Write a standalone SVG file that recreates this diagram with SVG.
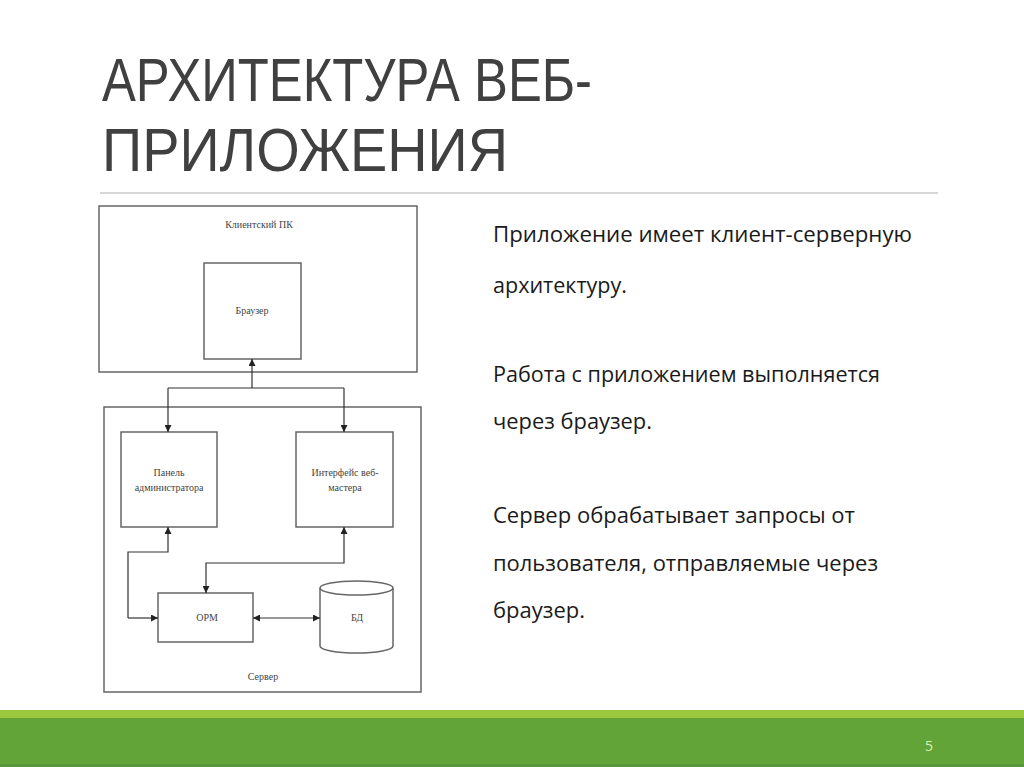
<svg xmlns="http://www.w3.org/2000/svg" width="1024" height="767" viewBox="0 0 1024 767">
<defs>
<marker id="ah" viewBox="0 0 10 10" refX="10" refY="5" markerWidth="7" markerHeight="7" markerUnits="userSpaceOnUse" orient="auto-start-reverse">
<path d="M0,0 L10,5 L0,10 Z" fill="#222"/>
</marker>
<style>
.title{font-family:"Liberation Sans",Arial,sans-serif;font-size:62px;fill:#404040}
.body{font-family:"Open Sans","Liberation Sans",sans-serif;font-size:21px;fill:#1a1a1a}
.box{fill:#fff;stroke:#666;stroke-width:1.5}
.lbl{font-family:"Liberation Serif","Times New Roman",serif;font-size:10px;fill:#444;text-anchor:middle}
.con{fill:none;stroke:#333;stroke-width:1.2}
</style>
</defs>
<rect width="1024" height="767" fill="#fff"/>
<g id="title">
<text class="title" x="102" y="101" textLength="490" lengthAdjust="spacingAndGlyphs">АРХИТЕКТУРА ВЕБ-</text>
<text class="title" x="102" y="171" textLength="406" lengthAdjust="spacingAndGlyphs">ПРИЛОЖЕНИЯ</text>
</g>
<line x1="100" y1="193" x2="938" y2="193" stroke="#c8c8c8" stroke-width="1.5"/>

<g id="text-body">
<text class="body" x="493" y="242" textLength="419" lengthAdjust="spacingAndGlyphs">Приложение имеет клиент-серверную</text>
<text class="body" x="493" y="293" textLength="134" lengthAdjust="spacingAndGlyphs">архитектуру.</text>
<text class="body" x="493" y="382" textLength="387" lengthAdjust="spacingAndGlyphs">Работа с приложением выполняется</text>
<text class="body" x="493" y="429" textLength="159" lengthAdjust="spacingAndGlyphs">через браузер.</text>
<text class="body" x="493" y="523" textLength="362" lengthAdjust="spacingAndGlyphs">Сервер обрабатывает запросы от</text>
<text class="body" x="493" y="571" textLength="385" lengthAdjust="spacingAndGlyphs">пользователя, отправляемые через</text>
<text class="body" x="493" y="618" textLength="92" lengthAdjust="spacingAndGlyphs">браузер.</text>
</g>

<g id="client-pc">
<rect class="box" x="99" y="206" width="318" height="166"/>
<text class="lbl" x="259" y="228">Клиентский ПК</text>
</g>
<g id="server">
<rect class="box" x="104" y="407" width="317" height="285"/>
<text class="lbl" x="263" y="680">Сервер</text>
</g>
<g id="browser">
<rect class="box" x="204" y="263" width="97" height="96"/>
<text class="lbl" x="252" y="314">Браузер</text>
</g>
<g id="admin-panel">
<rect class="box" x="121" y="432" width="96" height="95"/>
<text class="lbl" x="169" y="476">Панель</text>
<text class="lbl" x="169" y="491">администратора</text>
</g>
<g id="webmaster">
<rect class="box" x="296" y="432" width="97" height="95"/>
<text class="lbl" x="345" y="476">Интерфейс веб-</text>
<text class="lbl" x="345" y="491">мастера</text>
</g>
<g id="orm">
<rect class="box" x="158" y="593" width="95" height="49"/>
<text class="lbl" x="207" y="621">ОРМ</text>
</g>
<g id="db">
<path class="box" d="M320,588 L320,646 A36.5,7 0 0 0 393,646 L393,588 A36.5,7 0 0 0 320,588 Z"/>
<path d="M320,588 A36.5,7 0 0 0 393,588" fill="none" stroke="#666" stroke-width="1.5"/>
<text class="lbl" x="357" y="621">БД</text>
</g>

<g id="connectors">
<line class="con" x1="252" y1="388" x2="252" y2="359" marker-end="url(#ah)"/>
<polyline class="con" points="168,388 344,388"/>
<line class="con" x1="168" y1="388" x2="168" y2="432" marker-end="url(#ah)"/>
<line class="con" x1="344" y1="388" x2="344" y2="432" marker-end="url(#ah)"/>
<polyline class="con" points="128,618 128,552 168,552 168,527" marker-end="url(#ah)"/>
<line class="con" x1="128" y1="618" x2="158" y2="618" marker-end="url(#ah)"/>
<polyline class="con" points="344,527 344,563 206,563 206,593" marker-start="url(#ah)" marker-end="url(#ah)"/>
<line class="con" x1="253" y1="618" x2="320" y2="618" marker-start="url(#ah)" marker-end="url(#ah)"/>
</g>

<rect x="0" y="710" width="1024" height="8" fill="#9bc83c"/>
<rect x="0" y="718" width="1024" height="49" fill="#62a437"/>
<rect x="0" y="764" width="1024" height="3" fill="#58983a"/>
<text x="929" y="751" font-family="'Open Sans','Liberation Sans',sans-serif" font-size="14" fill="#d9f2b4" text-anchor="middle">5</text>
</svg>
